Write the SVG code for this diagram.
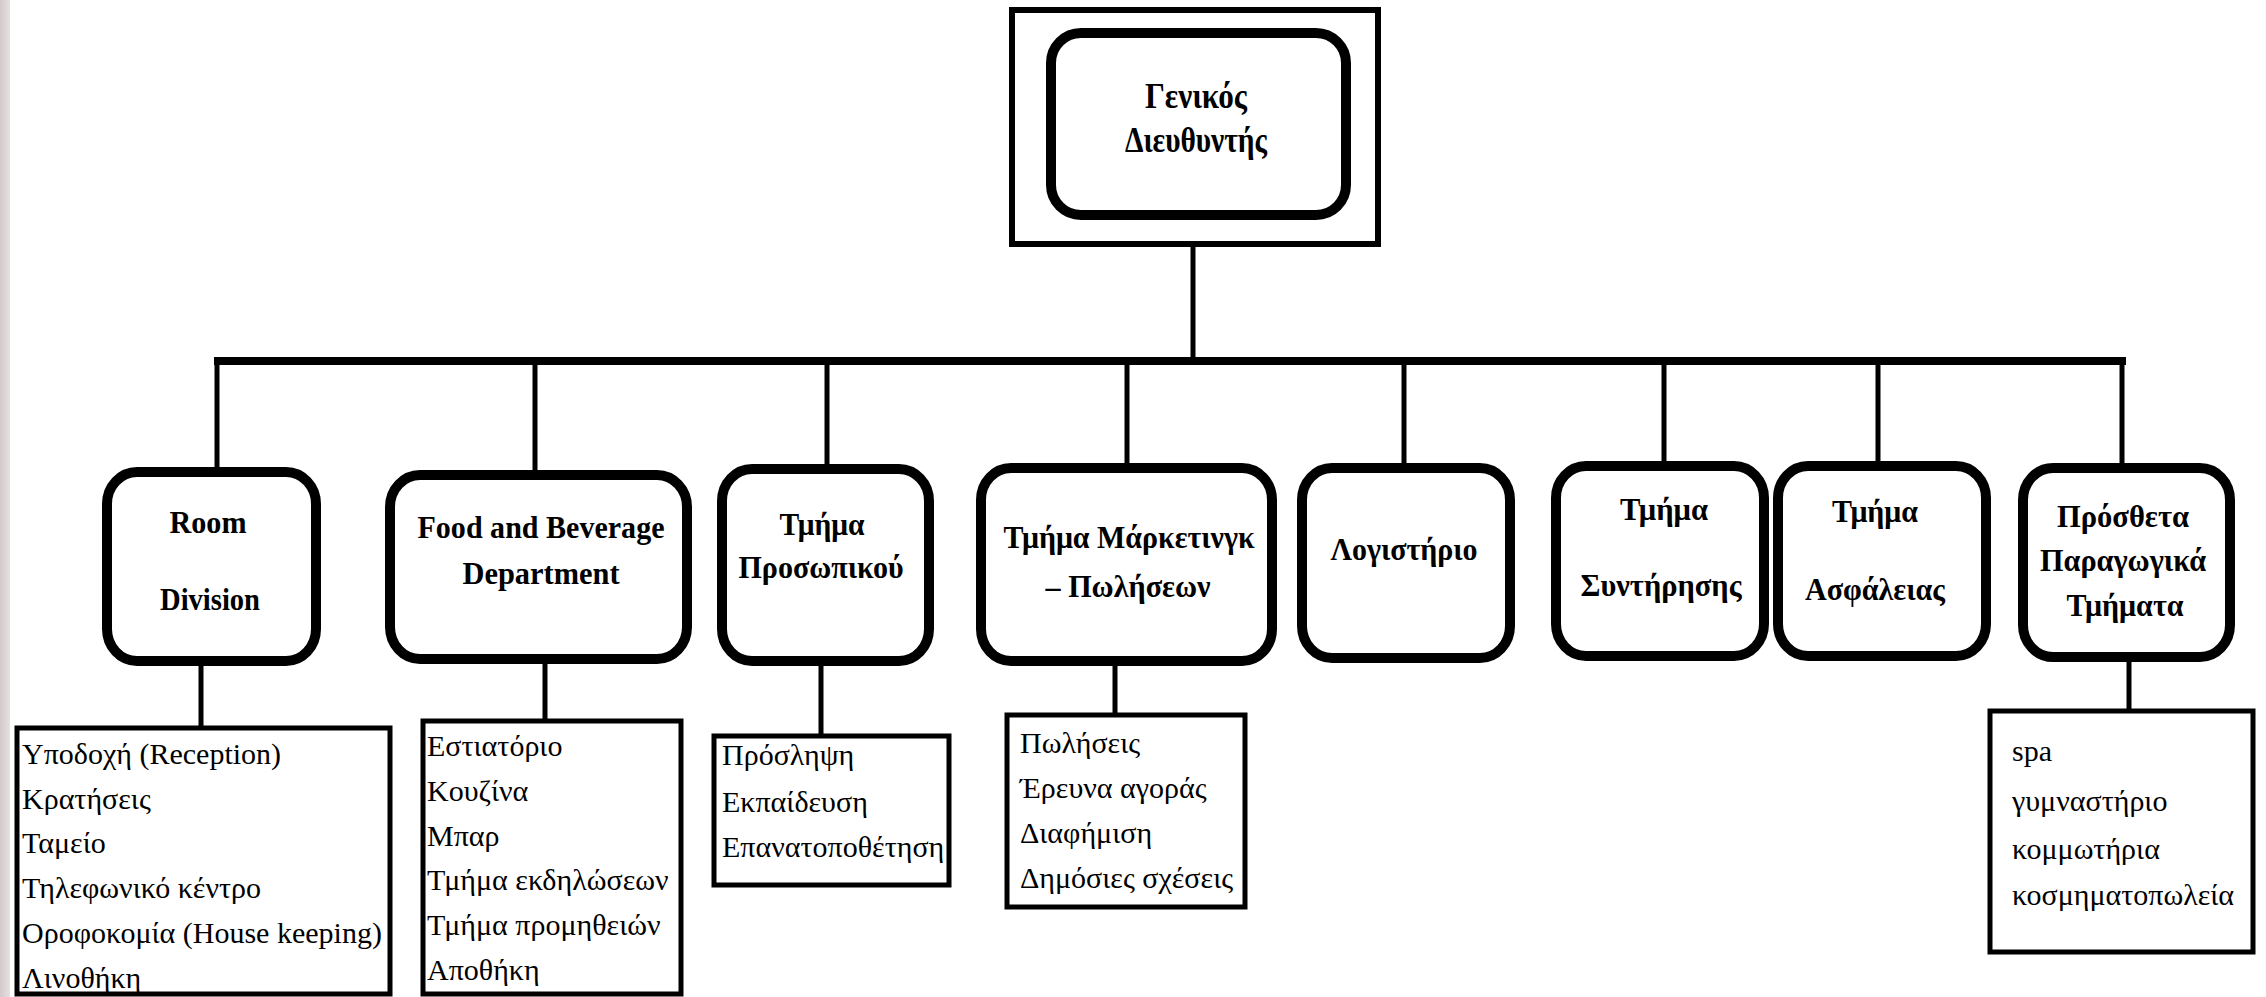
<svg xmlns="http://www.w3.org/2000/svg" width="2266" height="997" viewBox="0 0 2266 997">
  <defs>
    <linearGradient id="strip" x1="0" y1="0" x2="1" y2="0">
      <stop offset="0" stop-color="#d2caca"/>
      <stop offset="1" stop-color="#e6e1e1"/>
    </linearGradient>
  </defs>
  <style>
    .rbox { fill: #ffffff; stroke: #000000; stroke-width: 10; }
    .lbox { fill: #ffffff; stroke: #000000; stroke-width: 5; }
    .outer { fill: #ffffff; stroke: #000000; stroke-width: 6; }
    .conn { fill: none; stroke: #000000; stroke-width: 5; }
    .bar { fill: none; stroke: #000000; stroke-width: 8; }
    .t { font-family: "Liberation Serif", "Times New Roman", serif; font-weight: bold; font-size: 32px; fill: #000000; text-anchor: middle; }
    .tt { font-family: "Liberation Serif", "Times New Roman", serif; font-weight: bold; font-size: 36px; fill: #000000; text-anchor: middle; }
    .l { font-family: "Liberation Serif", "Times New Roman", serif; font-size: 30px; fill: #000000; }
  </style>
  <rect x="0" y="0" width="2266" height="997" fill="#ffffff"/>
  <rect x="0" y="0" width="10" height="997" fill="url(#strip)"/>

  <g id="connectors">
    <path class="conn" d="M1193 244 V361"/>
    <path class="bar" d="M214 361 H2126"/>
    <path class="conn" d="M217 361 V472"/>
    <path class="conn" d="M535 361 V475"/>
    <path class="conn" d="M827 361 V469"/>
    <path class="conn" d="M1127 361 V468"/>
    <path class="conn" d="M1404 361 V468"/>
    <path class="conn" d="M1664 361 V466"/>
    <path class="conn" d="M1878 361 V466"/>
    <path class="conn" d="M2122 361 V468"/>
    <path class="conn" d="M201 661 V728"/>
    <path class="conn" d="M545 659 V721"/>
    <path class="conn" d="M821 661 V736"/>
    <path class="conn" d="M1115 661 V715"/>
    <path class="conn" d="M2129 657 V711"/>
  </g>

  <g id="general-manager">
    <rect class="outer" x="1012" y="10" width="366" height="234"/>
    <rect class="rbox" x="1051" y="33" width="295" height="182" rx="30" ry="30" stroke-width="9"/>
    <text class="tt" x="1196" y="108" textLength="102" lengthAdjust="spacingAndGlyphs">Γενικός</text>
    <text class="tt" x="1196" y="152" textLength="142" lengthAdjust="spacingAndGlyphs">Διευθυντής</text>
  </g>

  <g id="room-division">
    <rect class="rbox" x="107" y="472" width="209" height="189" rx="30" ry="32"/>
    <text class="t" x="208" y="533" textLength="77" lengthAdjust="spacingAndGlyphs">Room</text>
    <text class="t" x="210" y="610" textLength="100" lengthAdjust="spacingAndGlyphs">Division</text>
  </g>
  <g id="room-division-list">
    <rect class="lbox" x="17" y="728" width="373" height="266"/>
    <text class="l" x="22" y="764">Υποδοχή (Reception)</text>
    <text class="l" x="22" y="809">Κρατήσεις</text>
    <text class="l" x="22" y="853">Ταμείο</text>
    <text class="l" x="22" y="898">Τηλεφωνικό κέντρο</text>
    <text class="l" x="22" y="943">Οροφοκομία (House keeping)</text>
    <text class="l" x="22" y="988">Λινοθήκη</text>
  </g>

  <g id="food-beverage">
    <rect class="rbox" x="390" y="475" width="297" height="184" rx="30" ry="32"/>
    <text class="t" x="541" y="538" textLength="247" lengthAdjust="spacingAndGlyphs">Food and Beverage</text>
    <text class="t" x="541" y="584" textLength="157" lengthAdjust="spacingAndGlyphs">Department</text>
  </g>
  <g id="food-beverage-list">
    <rect class="lbox" x="423" y="721" width="258" height="273"/>
    <text class="l" x="427" y="756">Εστιατόριο</text>
    <text class="l" x="427" y="801">Κουζίνα</text>
    <text class="l" x="427" y="846">Μπαρ</text>
    <text class="l" x="427" y="890">Τμήμα εκδηλώσεων</text>
    <text class="l" x="427" y="935">Τμήμα προμηθειών</text>
    <text class="l" x="427" y="980">Αποθήκη</text>
  </g>

  <g id="personnel">
    <rect class="rbox" x="722" y="469" width="207" height="192" rx="30" ry="32"/>
    <text class="t" x="822" y="535" textLength="85" lengthAdjust="spacingAndGlyphs">Τμήμα</text>
    <text class="t" x="821" y="578" textLength="165" lengthAdjust="spacingAndGlyphs">Προσωπικού</text>
  </g>
  <g id="personnel-list">
    <rect class="lbox" x="714" y="736" width="235" height="149"/>
    <text class="l" x="722" y="765">Πρόσληψη</text>
    <text class="l" x="722" y="812">Εκπαίδευση</text>
    <text class="l" x="722" y="857">Επανατοποθέτηση</text>
  </g>

  <g id="marketing">
    <rect class="rbox" x="981" y="468" width="291" height="193" rx="30" ry="32"/>
    <text class="t" x="1129" y="548" textLength="251" lengthAdjust="spacingAndGlyphs">Τμήμα Μάρκετινγκ</text>
    <text class="t" x="1128" y="597" textLength="165" lengthAdjust="spacingAndGlyphs">– Πωλήσεων</text>
  </g>
  <g id="marketing-list">
    <rect class="lbox" x="1007" y="715" width="238" height="192"/>
    <text class="l" x="1020" y="753">Πωλήσεις</text>
    <text class="l" x="1020" y="798">Έρευνα αγοράς</text>
    <text class="l" x="1020" y="843">Διαφήμιση</text>
    <text class="l" x="1020" y="888">Δημόσιες σχέσεις</text>
  </g>

  <g id="accounting">
    <rect class="rbox" x="1302" y="468" width="208" height="190" rx="30" ry="32"/>
    <text class="t" x="1404" y="560" textLength="147" lengthAdjust="spacingAndGlyphs">Λογιστήριο</text>
  </g>

  <g id="maintenance">
    <rect class="rbox" x="1556" y="466" width="208" height="190" rx="30" ry="32"/>
    <text class="t" x="1664" y="520" textLength="88" lengthAdjust="spacingAndGlyphs">Τμήμα</text>
    <text class="t" x="1661" y="596" textLength="161" lengthAdjust="spacingAndGlyphs">Συντήρησης</text>
  </g>

  <g id="security">
    <rect class="rbox" x="1778" y="466" width="208" height="190" rx="30" ry="32"/>
    <text class="t" x="1875" y="522" textLength="86" lengthAdjust="spacingAndGlyphs">Τμήμα</text>
    <text class="t" x="1875" y="600" textLength="140" lengthAdjust="spacingAndGlyphs">Ασφάλειας</text>
  </g>

  <g id="additional">
    <rect class="rbox" x="2023" y="468" width="207" height="189" rx="30" ry="32"/>
    <text class="t" x="2123" y="527" textLength="132" lengthAdjust="spacingAndGlyphs">Πρόσθετα</text>
    <text class="t" x="2123" y="571" textLength="166" lengthAdjust="spacingAndGlyphs">Παραγωγικά</text>
    <text class="t" x="2125" y="616" textLength="117" lengthAdjust="spacingAndGlyphs">Τμήματα</text>
  </g>
  <g id="additional-list">
    <rect class="lbox" x="1990" y="711" width="263" height="241"/>
    <text class="l" x="2012" y="761">spa</text>
    <text class="l" x="2012" y="811">γυμναστήριο</text>
    <text class="l" x="2012" y="859">κομμωτήρια</text>
    <text class="l" x="2012" y="905">κοσμηματοπωλεία</text>
  </g>
</svg>
